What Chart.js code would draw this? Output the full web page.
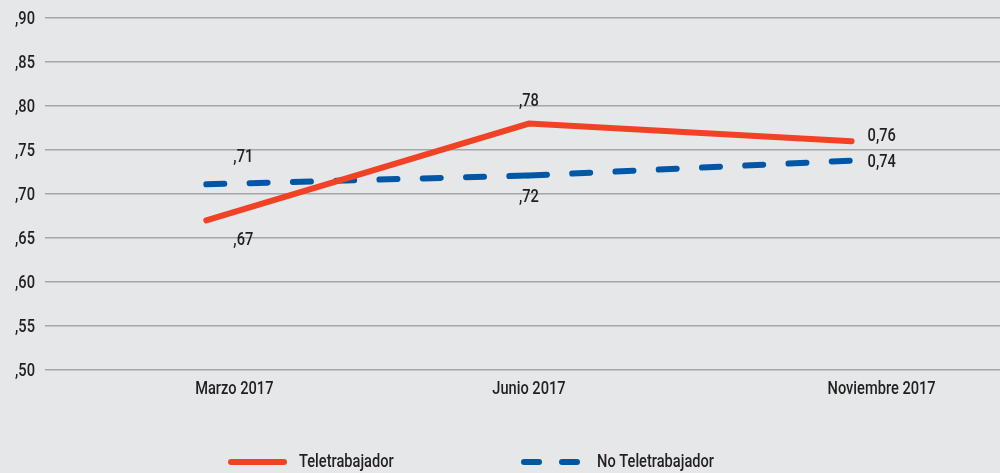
<!DOCTYPE html>
<html>
<head>
<meta charset="utf-8">
<script src="https://cdn.jsdelivr.net/npm/chart.js@4.4.0/dist/chart.umd.min.js"></script>
<style>
  html, body { margin: 0; padding: 0; background: #e6e7e9; }
  .box { width: 1000px; height: 473px; }
</style>
</head>
<body>
<div class="box"><canvas id="chart"></canvas></div>
<script>
const categories = ['Marzo 2017', 'Junio 2017', 'Noviembre 2017']
const teletrabajador = [0.67, 0.78, 0.76]
const noTeletrabajador = [0.711, 0.721, 0.738]
const teletrabajadorLabels = [',67', ',78', '0,76']
const noTeletrabajadorLabels = [',71', ',72', '0,74']

const FONT = '500 19px Roboto, "Noto Sans", sans-serif'
const SQUEEZE = 0.77   // the original type is a condensed face
const RED = '#f04224'
const BLUE = '#0057a6'
const TEXT = '#231f20'

// narrow text: draw squeezed horizontally around its anchor
function condensed(ctx, text, x, y, align) {
    ctx.save()
    ctx.translate(x, y)
    ctx.scale(SQUEEZE, 1)
    ctx.font = FONT
    ctx.fillStyle = TEXT
    ctx.textBaseline = 'middle'
    ctx.textAlign = align
    ctx.fillText(text, 0, 0)
    ctx.restore()
}

// tick labels, value labels and legend
const textLayer = {
    id: 'textLayer',
    afterDraw(chart) {
        const ctx = chart.ctx
        const xs = chart.scales.x
        const ys = chart.scales.y

        ys.ticks.forEach(t => condensed(ctx, t.label, 35, ys.getPixelForValue(t.value) + 1, 'right'))
        // category names sit a little right of the outer points in the original
        const shift = [28, 0, 30]
        xs.ticks.forEach((t, i) => condensed(ctx, t.label, xs.getPixelForValue(t.value) + shift[i], 389, 'center'))

        const offsets = [
            [[37, 20, 'center'], [0, -22, 'center'], [16, -5, 'left']],
            [[37, -27, 'center'], [0, 22, 'center'], [16, 2, 'left']]
        ]
        const texts = [teletrabajadorLabels, noTeletrabajadorLabels]
        chart.data.datasets.forEach((ds, d) => {
            chart.getDatasetMeta(d).data.forEach((pt, i) => {
                const o = offsets[d][i]
                condensed(ctx, texts[d][i], pt.x + o[0], pt.y + o[1], o[2])
            })
        })

        const y = 462
        ctx.save()
        ctx.lineWidth = 6
        ctx.lineCap = 'round'
        ctx.strokeStyle = RED
        ctx.beginPath()
        ctx.moveTo(231, y)
        ctx.lineTo(284, y)
        ctx.stroke()
        ctx.strokeStyle = BLUE
        ctx.beginPath()
        ctx.moveTo(524, y)
        ctx.lineTo(539, y)
        ctx.moveTo(562, y)
        ctx.lineTo(577, y)
        ctx.stroke()
        ctx.restore()
        condensed(ctx, 'Teletrabajador', 299, y, 'left')
        condensed(ctx, 'No Teletrabajador', 597, y, 'left')
    }
}

new Chart(document.getElementById('chart'), {
    type: 'line',
    data: {
        datasets: [
            {
                label: 'Teletrabajador',
                data: teletrabajador.map((v, i) => ({ x: i, y: v })),
                borderColor: RED,
                borderWidth: 6,
                borderCapStyle: 'round',
                pointRadius: 0,
                tension: 0
            },
            {
                label: 'No Teletrabajador',
                data: noTeletrabajador.map((v, i) => ({ x: i, y: v })),
                borderColor: BLUE,
                borderWidth: 6,
                borderCapStyle: 'round',
                borderDash: [18, 25.3],
                // restart the dash pattern at every point, like the original
                segment: { borderDashOffset: c => c.p0DataIndex * 0.001 },
                pointRadius: 0,
                tension: 0
            }
        ]
    },
    options: {
        responsive: true,
        maintainAspectRatio: false,
        animation: false,
        layout: { padding: { top: 18, right: 0, bottom: 68, left: 0 } },
        plugins: {
            legend: { display: false },
            tooltip: { enabled: false }
        },
        scales: {
            x: {
                type: 'linear',
                min: -0.5,
                max: 2.46,
                afterBuildTicks: s => { s.ticks = categories.map((c, i) => ({ value: i })) },
                afterFit: s => { s.height = 35 },
                grid: { display: false },
                border: { display: false },
                ticks: {
                    callback: v => categories[v],
                    color: 'rgba(0,0,0,0)',
                    font: { size: 10 },
                    maxRotation: 0
                }
            },
            y: {
                min: 0.5,
                max: 0.9,
                afterFit: s => { s.width = 45 },
                grid: { color: '#a4a6a9', lineWidth: 1.5, drawTicks: false },
                border: { display: false },
                ticks: {
                    stepSize: 0.05,
                    callback: v => ',' + v.toFixed(2).split('.')[1],
                    color: 'rgba(0,0,0,0)',
                    font: { size: 10 }
                }
            }
        }
    },
    plugins: [textLayer]
})
</script>
</body>
</html>
